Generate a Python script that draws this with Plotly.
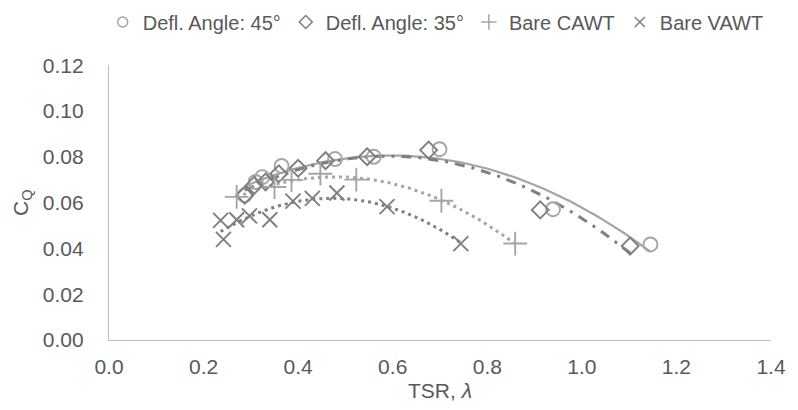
import numpy as np
import plotly.graph_objects as go

# ---- data ----
tsr_45 = [0.287, 0.31, 0.324, 0.365, 0.478, 0.560, 0.699, 0.939, 1.145]
cq_45 = [0.0632, 0.0690, 0.0711, 0.0760, 0.0790, 0.0800, 0.0833, 0.0571, 0.0417]

tsr_35 = [0.287, 0.307, 0.331, 0.359, 0.400, 0.458, 0.546, 0.676, 0.912, 1.102]
cq_35 = [0.0632, 0.0675, 0.0690, 0.0726, 0.0750, 0.0783, 0.0800, 0.0829, 0.0568, 0.0410]

tsr_cawt = [0.270, 0.350, 0.386, 0.447, 0.523, 0.703, 0.859]
cq_cawt = [0.0625, 0.0668, 0.0699, 0.0726, 0.0700, 0.0608, 0.0421]

tsr_vawt = [0.236, 0.242, 0.270, 0.297, 0.340, 0.389, 0.430, 0.482, 0.588, 0.744]
cq_vawt = [0.0522, 0.0439, 0.0525, 0.0542, 0.0525, 0.0606, 0.0618, 0.0642, 0.0582, 0.0421]

x_ticks = [0.0, 0.2, 0.4, 0.6, 0.8, 1.0, 1.2, 1.4]
y_ticks = [0.00, 0.02, 0.04, 0.06, 0.08, 0.10, 0.12]

LIGHT = "#A5A5A5"
DARK = "#7F7F7F"
TEXT = "#595959"
FONT = "Liberation Sans, Arial, sans-serif"
FS = 21
LFS = 20

series = [
    ("Defl. Angle: 45°", tsr_45, cq_45, "circle-open", LIGHT, 14, 10, dict(color=LIGHT, width=2.2, dash="solid")),
    ("Defl. Angle: 35°", tsr_35, cq_35, "diamond-open", DARK, 13, 10, dict(color=DARK, width=3, dash="10px,7px,3px,7px")),
    ("Bare CAWT", tsr_cawt, cq_cawt, "cross-thin-open", LIGHT, 17, 11, dict(color=LIGHT, width=3, dash="3px,4px")),
    ("Bare VAWT", tsr_vawt, cq_vawt, "x-thin-open", DARK, 15, 10, dict(color=DARK, width=3, dash="3px,4px")),
]

fig = go.Figure()

# polynomial (order 2) trendlines, as in the original spreadsheet chart
for name, xs, ys, sym, col, size, lsize, line in series:
    coef = np.polyfit(xs, ys, 2)
    xf = np.linspace(min(xs), max(xs), 120)
    fig.add_trace(go.Scatter(x=xf, y=np.polyval(coef, xf), mode="lines",
                             line=line, showlegend=False, hoverinfo="skip"))

for name, xs, ys, sym, col, size, lsize, line in series:
    fig.add_trace(go.Scatter(
        x=xs, y=ys, mode="markers", name=name, showlegend=False,
        marker=dict(symbol=sym, size=size, color=col, line=dict(color=col, width=1.9)),
    ))

# legend entries (smaller symbols, as in the reference legend)
for name, xs, ys, sym, col, size, lsize, line in series:
    fig.add_trace(go.Scatter(
        x=[None], y=[None], mode="markers", name=name, showlegend=True,
        marker=dict(symbol=sym, size=lsize, color=col, line=dict(color=col, width=1.5)),
    ))

# page body adds an 8px offset, so the figure is sized to end at the window edge
fig.update_layout(
    width=790, height=402,
    margin=dict(l=92, r=15, t=55, b=68),
    paper_bgcolor="white", plot_bgcolor="white",
    font=dict(family=FONT, size=FS, color=TEXT),
    legend=dict(orientation="h", x=0.4935, xanchor="center",
                y=1 - 14 / 402, yanchor="middle", yref="container",
                itemwidth=30, font=dict(size=LFS, color=TEXT),
                bgcolor="rgba(0,0,0,0)"),
    showlegend=True,
)

fig.update_xaxes(range=[0, 1.4], tickvals=x_ticks, ticktext=[f"{v:.1f}" for v in x_ticks],
                 showgrid=False, zeroline=False, showline=True, linecolor="#BFBFBF", linewidth=1.3,
                 ticks="", ticklabelstandoff=8, ticklabeloverflow="allow",
                 title=dict(text="TSR, <i>λ</i>", standoff=5, font=dict(size=FS, color=TEXT)))
fig.update_yaxes(range=[0, 0.12], tickvals=y_ticks, ticktext=[f"{v:.2f}" for v in y_ticks],
                 showgrid=False, zeroline=False, showline=True, linecolor="#BFBFBF", linewidth=1.3,
                 ticks="", ticklabelstandoff=20,
                 title=dict(text="C<sub>Q</sub>", standoff=8, font=dict(size=FS, color=TEXT)))

fig.write_html("out.html")
